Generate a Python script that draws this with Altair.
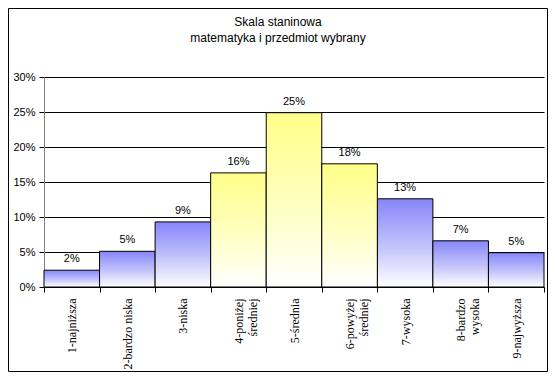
import altair as alt
import pandas as pd

kategorie = ["1-najniższa", "2-bardzo niska", "3-niska", "4-poniżej średniej",
             "5-średnia", "6-powyżej średniej", "7-wysoka", "8-bardzo wysoka",
             "9-najwyższa"]
udzial = [0.024, 0.051, 0.093, 0.163, 0.249, 0.176, 0.126, 0.066, 0.049]
grupa = ["skrajna", "skrajna", "skrajna", "srodek", "srodek", "srodek",
         "skrajna", "skrajna", "skrajna"]
tytul = ["Skala staninowa", "matematyka i przedmiot wybrany"]

df = pd.DataFrame({"kat": kategorie, "val": udzial, "grupa": grupa})
one = pd.DataFrame({"a": [0]})

blue = alt.Gradient(gradient="linear",
                    stops=[alt.GradientStop(color="#8686fb", offset=0),
                           alt.GradientStop(color="#c4c4fb", offset=0.55),
                           alt.GradientStop(color="#ffffff", offset=1)],
                    x1=0, x2=0, y1=0, y2=1)
yellow = alt.Gradient(gradient="linear",
                      stops=[alt.GradientStop(color="#ffff88", offset=0),
                             alt.GradientStop(color="#ffffc4", offset=0.55),
                             alt.GradientStop(color="#ffffff", offset=1)],
                      x1=0, x2=0, y1=0, y2=1)

x = alt.X("kat:N", sort=kategorie, title=None,
          scale=alt.Scale(paddingInner=0, paddingOuter=0),
          axis=alt.Axis(tickBand="extent", labelAngle=-90, labelAlign="right",
                        labelBaseline="middle", labelFont="Liberation Serif",
                        labelFontSize=12, labelColor="black", labelPadding=6,
                        labelExpr="length(datum.label) > 14 ? split(datum.label, ' ') : datum.label",
                        domainColor="black", tickColor="black", tickSize=5))
y = alt.Y("val:Q", title=None,
          scale=alt.Scale(domain=[0, 0.3], nice=False),
          axis=alt.Axis(values=[0, 0.05, 0.1, 0.15, 0.2, 0.25, 0.3], format=".0%",
                        labelFont="Liberation Sans", labelFontSize=11,
                        labelColor="black", gridColor="black", gridOpacity=1,
                        gridWidth=1, domainColor="#808080", tickColor="black",
                        tickSize=5, labelPadding=4))

base = alt.Chart(df)
bars_b = base.transform_filter("datum.grupa == 'skrajna'").mark_bar(
    color=blue, stroke="black", strokeWidth=1).encode(x=x, y=y)
bars_y = base.transform_filter("datum.grupa == 'srodek'").mark_bar(
    color=yellow, stroke="black", strokeWidth=1).encode(x=x, y=y)
labels = base.mark_text(font="Liberation Sans", fontSize=11, color="black",
                        baseline="bottom", dy=-6).encode(
    x=x, y=y, text=alt.Text("val:Q", format=".0%"))
title = alt.Chart(one).mark_text(text=tytul, font="Liberation Sans", fontSize=12,
                                 color="black", baseline="middle", align="center",
                                 lineHeight=16).encode(
    x=alt.value(234), y=alt.value(-55))
border = alt.Chart(one).mark_rect(fill=None, stroke="black", strokeWidth=1).encode(
    x=alt.value(-35.5), x2=alt.value(503.5), y=alt.value(-68.5), y2=alt.value(294.5))

chart = alt.layer(bars_b, bars_y, labels, title, border).properties(
    width=500, height=210,
    autosize=alt.AutoSizeParams(type="none"),
    padding={"left": 36, "top": 69, "right": 4, "bottom": 85},
).configure_view(stroke=None)

chart.save("out.html", embed_options={"renderer": "svg", "actions": False})
